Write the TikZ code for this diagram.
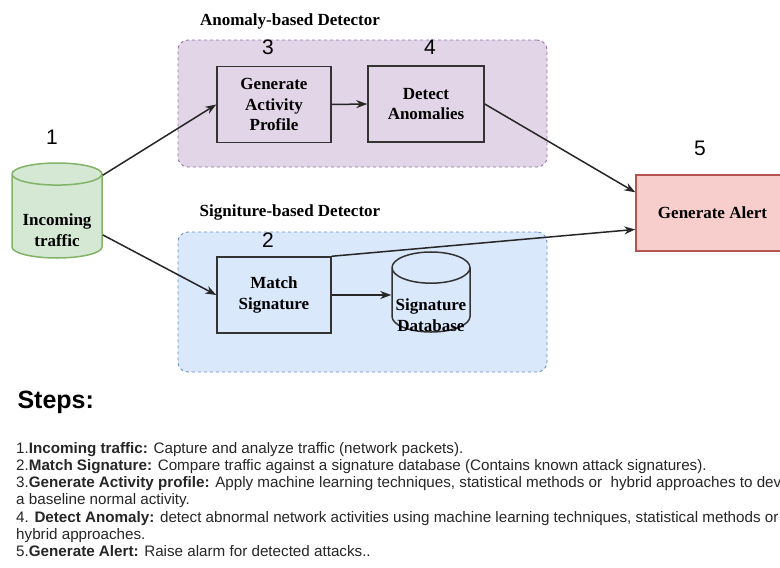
\documentclass[tikz,border=0pt]{standalone}
\usepackage{fontspec}
\setmainfont{Liberation Serif}
\setsansfont{Liberation Sans}
\usetikzlibrary{arrows.meta,shapes.geometric}
\definecolor{anomfill}{HTML}{E1D5E7}
\definecolor{anomline}{HTML}{9673A6}
\definecolor{sigfill}{HTML}{DAE8FC}
\definecolor{sigline}{HTML}{6C8EBF}
\definecolor{trafficfill}{HTML}{D5E8D4}
\definecolor{trafficline}{HTML}{82B366}
\definecolor{alertfill}{HTML}{F8CECC}
\definecolor{alertline}{HTML}{B85450}
\definecolor{boxline}{HTML}{333333}
% text set lower inside a cylinder, box size kept
\newcommand{\lowered}[2]{\raisebox{-#1}[\height][\depth]{#2}}
\begin{document}
\begin{tikzpicture}[x=1pt,y=-1pt,
    boxfont/.style={font=\fontsize{17}{20.5}\selectfont\bfseries},
    group/.style={draw, dash pattern=on 3pt off 3pt, line width=0.9pt, rounded corners=10pt},
    stepbox/.style={draw=boxline, line width=1.5pt, align=center, boxfont,
      minimum width=114pt, minimum height=76pt, inner sep=2pt},
    store/.style={cylinder, shape border rotate=90, anchor=shape center, align=center,
      boxfont, line width=1.5pt, inner sep=0pt},
    number/.style={font=\sffamily\fontsize{21}{24}\selectfont},
    title/.style={boxfont},
    arr/.style={-{Stealth[length=11pt,width=8pt]}, line width=1.5pt, draw=black!85}]
  \useasboundingbox (0,0) rectangle (780,568);
  \clip (0,0) rectangle (780,568);

  % detector groups
  \node[group, draw=anomline, fill=anomfill, minimum width=369pt, minimum height=127pt]
    (anomgroup) at (362.5,103.5) {};
  \node[group, draw=sigline, fill=sigfill, minimum width=369pt, minimum height=140pt]
    (siggroup) at (362.5,302) {};
  \node[title] (anomtitle) at (290,21) {Anomaly-based Detector};
  \node[title] (sigtitle) at (290,212) {Signiture-based Detector};

  % steps
  \node[store, draw=trafficline, fill=trafficfill, aspect=0.32,
    minimum width=90pt, minimum height=95pt] (traffic) at (57,210.5)
    {\lowered{14pt}{Incoming}\\\lowered{14pt}{traffic}};
  \node[stepbox] (profile) at (274,104.5) {Generate\\Activity\\Profile};
  \node[stepbox, minimum width=116pt] (anomalies) at (426,104) {Detect\\Anomalies};
  \node[stepbox] (match) at (274,295) {Match\\Signature};
  \node[store, draw=boxline, fill=sigfill, aspect=0.6,
    minimum width=78pt, minimum height=80pt] (database) at (431,292)
    {\lowered{15pt}{\makebox[52pt]{Signature}}\\\lowered{15pt}{\makebox[52pt]{Database}}};
  \node[stepbox, draw=alertline, fill=alertfill, minimum width=153pt] (alert)
    at (712.5,213) {Generate Alert};

  % numbers
  \node[number] (n1) at (52,137) {1};
  \node[number] (n2) at (268,240) {2};
  \node[number] (n3) at (268,47) {3};
  \node[number] (n4) at (430,47) {4};
  \node[number] (n5) at (700,148) {5};

  \begin{scope}[arr]
    \draw (traffic.42) -- (profile.west);
    \draw (traffic.-22) -- (match.west);
    \draw (profile.east) -- (anomalies.west);
    \draw (anomalies.east) -- (alert.165);
    \draw (match.east) -- (match.east -| database.west);
    \draw (match.north east) -- (alert.192);
  \end{scope}

  % legend
  \node[anchor=west, font=\sffamily\bfseries\fontsize{25}{28}\selectfont] (stepshead)
    at (14,402) {Steps:};
  \node[anchor=north west, align=left, inner sep=0pt, text=black!85,
      font=\sffamily\fontsize{15.2}{17.2}\selectfont] (steplist) at (16,442) {%
    1.\textbf{Incoming traffic:} Capture and analyze traffic (network packets).\\
    2.\textbf{Match Signature:} Compare traffic against a signature database (Contains known attack signatures).\\
    3.\textbf{Generate Activity profile:} Apply machine learning techniques, statistical methods or\ \ hybrid approaches to dev\\
    a baseline normal activity.\\
    4. \textbf{Detect Anomaly:} detect abnormal network activities using machine learning techniques, statistical methods or\\
    hybrid approaches.\\
    5.\textbf{Generate Alert:} Raise alarm for detected attacks..};
\end{tikzpicture}
\end{document}
